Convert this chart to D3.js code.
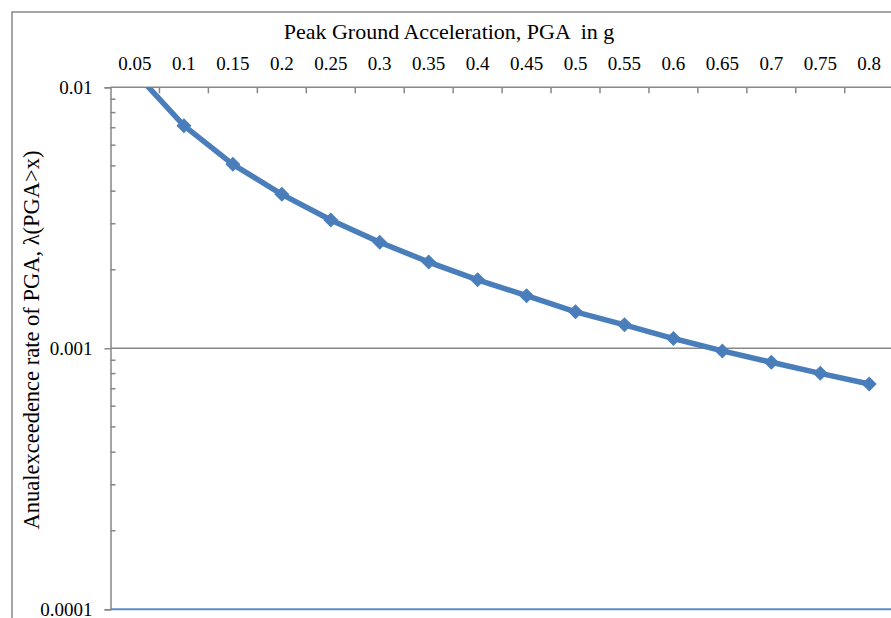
<!DOCTYPE html>
<html>
<head>
<meta charset="utf-8">
<script src="https://cdn.jsdelivr.net/npm/d3@7"></script>
<style>
  body { margin: 0; background: #fff; }
  text { font-family: "Liberation Serif", "Times New Roman", serif; fill: #000; }
</style>
</head>
<body>
<script>
// PGA categories (top axis)
var pgaLabels = ["0.05", "0.1", "0.15", "0.2", "0.25", "0.3", "0.35", "0.4",
  "0.45", "0.5", "0.55", "0.6", "0.65", "0.7", "0.75", "0.8"];

// annual exceedance rate
var rateValues = [0.0114, 0.00713, 0.00507, 0.00389, 0.0031, 0.00255, 0.00214, 0.00183,
  0.00159, 0.00138, 0.00123, 0.00109, 0.000977, 0.000884, 0.000802, 0.00073];

// y tick labels
var yTickValues = [0.01, 0.001, 0.0001];
var yTickLabels = ["0.01", "0.001", "0.0001"];

var svgWidth = 891;
var svgHeight = 618;

var plot = { left: 110.5, top: 87.3, right: 893.7, bottom: 609.3 };

var svg = d3.select("body")
  .append("svg")
  .attr("width", svgWidth)
  .attr("height", svgHeight);

// chart border (runs off the image to the right and bottom)
svg.append("rect")
  .attr("x", 12)
  .attr("y", 12)
  .attr("width", 1000)
  .attr("height", 1000)
  .attr("fill", "none")
  .attr("stroke", "#888888")
  .attr("stroke-width", 1.5);

var xScale = d3.scaleBand()
  .domain(pgaLabels)
  .range([plot.left, plot.right])
  .padding(0);

var yScale = d3.scaleLog()
  .domain([0.0001, 0.01])
  .range([plot.bottom, plot.top]);

// major gridlines
svg.append("g")
  .selectAll("line")
  .data([0.01, 0.001])
  .enter()
  .append("line")
  .attr("x1", plot.left)
  .attr("x2", plot.right)
  .attr("y1", d => yScale(d))
  .attr("y2", d => yScale(d))
  .attr("stroke", "#878787")
  .attr("stroke-width", 1.5);

// blue line along the bottom at 0.0001
svg.append("line")
  .attr("x1", plot.left)
  .attr("x2", plot.right)
  .attr("y1", yScale(0.0001))
  .attr("y2", yScale(0.0001))
  .attr("stroke", "#5b8ac6")
  .attr("stroke-width", 2);

// top axis: labels at band centers
var topAxis = d3.axisTop(xScale).tickSize(0).tickPadding(17);
var gx = svg.append("g")
  .attr("transform", `translate(0, ${plot.top})`)
  .call(topAxis);
gx.select(".domain").remove();
gx.selectAll("text")
  .style("font-family", "'Liberation Serif', serif")
  .style("font-size", "19px");

// top axis tick marks at category boundaries (pointing down, inside)
svg.append("g")
  .selectAll("line")
  .data(pgaLabels.slice(0, -1))
  .enter()
  .append("line")
  .attr("x1", d => xScale(d) + xScale.bandwidth())
  .attr("x2", d => xScale(d) + xScale.bandwidth())
  .attr("y1", plot.top)
  .attr("y2", plot.top + 6)
  .attr("stroke", "#878787")
  .attr("stroke-width", 1.5);

// left axis: major ticks outward with labels
var leftAxis = d3.axisLeft(yScale)
  .tickValues(yTickValues)
  .tickFormat((d, i) => yTickLabels[i])
  .tickSize(6)
  .tickPadding(12);
var gy = svg.append("g")
  .attr("transform", `translate(${plot.left}, 0)`)
  .call(leftAxis);
gy.select(".domain").attr("stroke", "#878787").attr("stroke-width", 1.5);
gy.selectAll(".tick line").attr("stroke", "#878787").attr("stroke-width", 1.5);
gy.selectAll("text")
  .style("font-family", "'Liberation Serif', serif")
  .style("font-size", "19px");

// minor log ticks, pointing inside
var minorTicks = [];
[0.0001, 0.001].forEach(function (base) {
  for (var k = 2; k <= 9; k++) minorTicks.push(base * k);
});
svg.append("g")
  .selectAll("line")
  .data(minorTicks)
  .enter()
  .append("line")
  .attr("x1", plot.left)
  .attr("x2", plot.left + 5)
  .attr("y1", d => yScale(d))
  .attr("y2", d => yScale(d))
  .attr("stroke", "#878787")
  .attr("stroke-width", 1.5);

// clip the series to the plot area
svg.append("clipPath")
  .attr("id", "plotClip")
  .append("rect")
  .attr("x", plot.left)
  .attr("y", plot.top)
  .attr("width", plot.right - plot.left)
  .attr("height", plot.bottom - plot.top);

var series = pgaLabels.map((p, i) => ({ pga: p, rate: rateValues[i] }));

var seriesGroup = svg.append("g").attr("clip-path", "url(#plotClip)");

var lineGen = d3.line()
  .x(d => xScale(d.pga) + xScale.bandwidth() / 2)
  .y(d => yScale(d.rate));

seriesGroup.append("path")
  .datum(series)
  .attr("d", lineGen)
  .attr("fill", "none")
  .attr("stroke", "#4a7ebb")
  .attr("stroke-width", 5.5)
  .attr("stroke-linejoin", "round");

// diamond markers (square turned 45 degrees)
seriesGroup.selectAll(".marker")
  .data(series)
  .enter()
  .append("path")
  .attr("class", "marker")
  .attr("d", d3.symbol().type(d3.symbolSquare).size(92))
  .attr("transform", d => `translate(${xScale(d.pga) + xScale.bandwidth() / 2}, ${yScale(d.rate)}) rotate(45)`)
  .attr("fill", "#4a7ebb")
  .attr("stroke", "#4a7ebb")
  .attr("stroke-width", 1);

// axis titles
svg.append("text")
  .attr("x", 449)
  .attr("y", 39)
  .attr("text-anchor", "middle")
  .attr("xml:space", "preserve")
  .style("white-space", "pre")
  .style("font-size", "22px")
  .text("Peak Ground Acceleration, PGA  in g");

svg.append("text")
  .attr("transform", "translate(39, 340) rotate(-90)")
  .attr("text-anchor", "middle")
  .style("font-size", "22.5px")
  .text("Anualexceedence rate of PGA, \u03bb(PGA>x)");
</script>
</body>
</html>
